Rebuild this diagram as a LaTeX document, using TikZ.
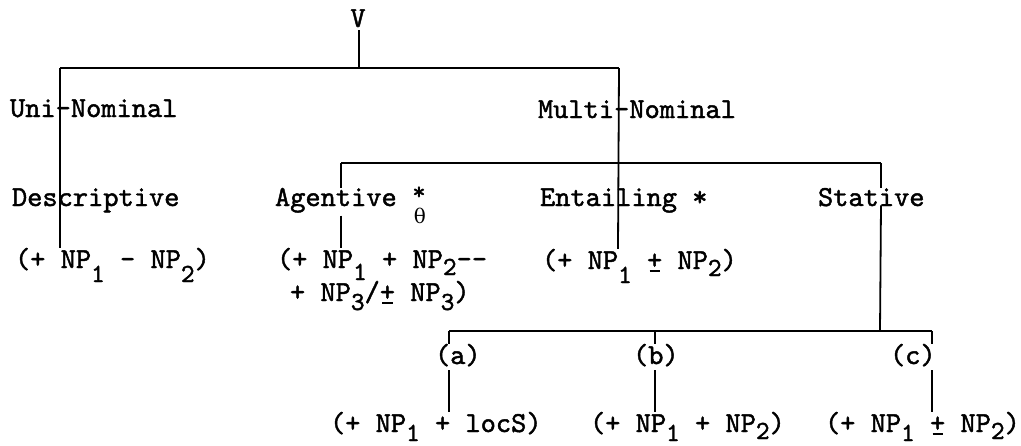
\documentclass[tikz,border=0pt]{standalone}
\usepackage{fontspec}
\newfontfamily\tw[FakeBold=1.5]{lmmono10-regular.otf}
\newfontfamily\dv{DejaVu Serif}
\newcommand\lo[1]{\raisebox{-14pt}{\scalebox{0.9}{#1}}}
\newcommand\lt[1]{\raisebox{-12pt}{\scalebox{0.9}{#1}}}
\newcommand\bo[1]{\raisebox{-9pt}{\scalebox{0.9}{#1}}}
\newcommand\mi[1]{\raisebox{-7pt}{\scalebox{0.9}{#1}}}
\newcommand\mt[1]{\raisebox{-9pt}{\scalebox{0.9}{#1}}}
\newcommand\pmx{\makebox[0pt][l]{\hspace{2.5pt}\rule[-3pt]{10.5pt}{1.6pt}}+}
\tikzset{
  lbl/.style={anchor=base west,inner sep=0pt,outer sep=0pt,font=\tw\fontsize{29}{31}\selectfont},
  sym/.style={anchor=center,inner sep=0pt,font=\tw\fontsize{25}{27}\selectfont},
  ln/.style={line width=1.8pt}
}
\begin{document}
\begin{tikzpicture}[x=1pt,y=-1pt]
\useasboundingbox (0,0) rectangle (1021,445);
% texts
\node[lbl,anchor=base] (v) at (358,27) {V};
\node[lbl] (uni) at (10,117) {Uni-Nominal};
\node[lbl] (multi) at (538,118) {Multi-Nominal};
\node[lbl] (desc) at (12,206) {Descriptive};
\node[lbl] (agent) at (275,206) {Agentive};
\node[sym] (star) at (419,193) {*};
\node[sym,font=\dv\fontsize{20}{22}\selectfont] (theta) at (420,216) {θ};
\node[lbl] (ent) at (540,206) {Entailing *};
\node[lbl] (stat) at (818,206) {Stative};
\node[lbl] (descnp) at (15,268) {(+ NP\lo{1} - NP\lo{2})};
\node[lbl] (agnp1) at (277,268) {(+ NP\lt{1} + NP\mi{2}--};
\node[lbl] (agnp2) at (290,301) {+ NP\mt{3}/\pmx{} NP\mt{3})};
\node[lbl] (entnp) at (542,269) {(+ NP\lo{1} \pmx{} NP\mi{2})};
\node[lbl] (a) at (435,364) {(a)};
\node[lbl] (b) at (633,364) {(b)};
\node[lbl] (c) at (890,364) {(c)};
\node[lbl] (anp) at (330,432) {(+ NP\bo{1} + locS)};
\node[lbl] (bnp) at (590,432) {(+ NP\bo{1} + NP\mi{2})};
\node[lbl] (cnp) at (825,432) {(+ NP\bo{1} \pmx{} NP\mi{2})};
% junction coordinates
\coordinate (j1) at (359,68);
\coordinate (j1l) at (60,68);
\coordinate (j1r) at (619,68);
\coordinate (j2l) at (341,163);
\coordinate (j2m) at (618,163);
\coordinate (j2r) at (881,163);
\coordinate (j3l) at (449,331);
\coordinate (j3m) at (655,331);
\coordinate (j3s) at (880,331);
\coordinate (j3r) at (932,331);
% connectors
\draw[ln] (v.south -| j1) ++(0,3) -- (j1);
\draw[ln] (j1l) -- (j1r);
\draw[ln] (j1l) -- (j1l |- descnp.north);
\draw[ln] (j1r) -- (j2m |- entnp.north);
\draw[ln] (j2l) -- (j2r);
\draw[ln] (j2l) -- (j2l |- agent.north);
\draw[ln] (j2l |- agent.south) ++(0,3) -- (j2l |- agnp1.north);
\draw[ln] (j2r) -- (j2r |- stat.north);
\draw[ln] (j2r |- stat.south) ++(0,-1) -- (j3s);
\draw[ln] (j3l) -- (j3r);
\draw[ln] (j3l) -- (j3l |- a.north);
\draw[ln] (j3l |- a.south) ++(0,4) -- (j3l |- anp.north);
\draw[ln] (j3m) -- (j3m |- b.north);
\draw[ln] (j3m |- b.south) ++(0,4) -- (j3m |- bnp.north);
\draw[ln] (j3r) -- (j3r |- c.north);
\draw[ln] (j3r |- c.south) ++(0,4) -- (j3r |- cnp.north);
\end{tikzpicture}
\end{document}
